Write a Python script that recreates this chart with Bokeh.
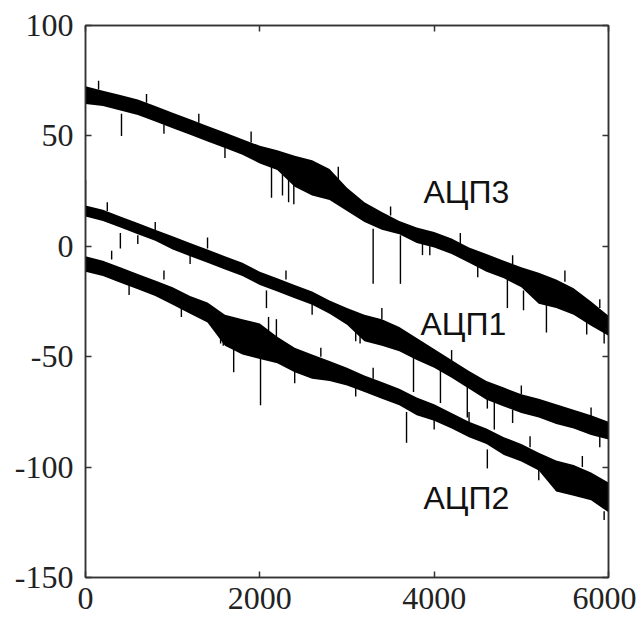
from bokeh.plotting import figure
from bokeh.models import Range1d, FixedTicker, LinearAxis, ColumnDataSource
from bokeh.core.properties import value
from bokeh.embed import file_html
from bokeh.resources import INLINE

# sample index grid at which the noise band edges were read
x_pts = [0, 200, 400, 600, 800, 1000, 1200, 1400, 1600, 1800, 2000,
         2200, 2400, 2600, 2800, 3000, 3200, 3400, 3600, 3800, 4000,
         4200, 4400, 4600, 4800, 5000, 5200, 5400, 5600, 5800, 6000]

# АЦП3 band core (upper / lower edge)
adc3_hi = [72.5, 70.5, 68.5, 66.5, 63.5, 60.5, 57.5, 54.5, 51.5, 48.5, 45.5, 43.5, 41, 39, 35, 26.5,
           20, 15.5, 11.5, 8.5, 6.5, 3.5, -0.5, -3.5, -6.5, -9.5, -12, -15, -19, -25, -31.5]
adc3_lo = [64.5, 63.5, 61.5, 59.5, 56.5, 53.5, 50.5, 47.5, 44.5, 41.5, 37.5, 34.5, 27, 23, 21, 16,
           11, 7.5, 5.5, 1.5, -0.5, -3.5, -7.5, -11.5, -14.5, -18.5, -26, -28, -31, -36, -40.5]
# АЦП1 band core
adc1_hi = [18.5, 16.5, 13.5, 10.5, 7.5, 4.5, 1.5, -1.5, -4.5, -7.5, -11.5, -14.5, -17.5, -20.5, -24.5, -28,
           -31, -33, -36.5, -41.5, -46.5, -51.5, -56.5, -61, -64, -67, -69, -71.5, -74, -76.5, -79.5]
adc1_lo = [13.5, 11.5, 8.5, 5.5, 2.5, -1.5, -4.5, -7.5, -10.5, -13.5, -17.5, -20.5, -23.5, -26.5, -30.5, -35.5,
           -43, -45, -47.5, -51.5, -55, -59.5, -64.5, -69.5, -72.5, -75.5, -77.5, -80.5, -82.5, -85.5, -87.5]
# АЦП2 band core
adc2_hi = [-4.5, -6.5, -9.5, -12.5, -15.5, -18.5, -22.5, -25.5, -31, -33, -35, -41, -46, -49, -52, -55,
           -58.5, -61.5, -64.5, -68.5, -71.5, -75.5, -79.5, -82.5, -86.5, -89.5, -93.5, -97, -99, -102.5, -107]
adc2_lo = [-11.5, -13.5, -16.5, -19.5, -22.5, -26.5, -30.5, -34.5, -45, -49, -51, -53, -57, -60, -61, -63,
           -66, -69, -72, -76.5, -79, -82.5, -86.5, -89.5, -94.5, -97.5, -101.5, -111, -113, -115, -120.5]

# spikes: sample index, value at band edge, value at spike tip
adc3_spk_x = [413, 2134, 2260, 2330, 2390, 3300, 3613, 3866, 4840, 4900, 5025, 5288, 5600, 5620,
              150, 700, 1300, 1900, 2900, 3500, 4300, 5500, 5900, 900, 1600, 3950, 4500, 5750, 5950]
adc3_spk_a = [60, 36, 35, 33, 32, 8, 5, 2, -14, -8, -20, -24, -22, -27,
              71, 65, 56, 47, 30, 14, 1, -16, -28, 55, 46, 1, -8, -34, -38]
adc3_spk_b = [50, 22, 23, 20, 19, -17, -17, -4, -28, -4, -29, -39, -25, -30,
              75, 69, 60, 52, 36, 18, 6, -11, -24, 51, 40, -4, -14, -40, -44]

adc1_spk_x = [0, 400, 2076, 3100, 3150, 3763, 4072, 4380, 4610, 4690,
              250, 800, 1400, 2300, 3400, 4200, 5000, 5800, 600, 1200, 2600, 4900, 5900]
adc1_spk_a = [17, 6, -20, -36, -36, -50, -54, -60, -66, -68,
              16, 7, -1, -15, -33, -52, -67, -77, 5, -3, -26, -74, -86]
adc1_spk_b = [30, -1, -28, -43, -44, -66, -71, -77.5, -73.5, -83,
              20, 11, 4, -11, -28, -47, -63, -73, 1, -8, -31, -80, -91]

adc2_spk_x = [1550, 1580, 1700, 2008, 2100, 2190, 3683, 4610, 5200,
              300, 900, 2700, 3300, 4400, 5100, 5700, 500, 1100, 2400, 3100, 4000, 5950]
adc2_spk_a = [-38, -38, -46, -50, -42, -44, -75, -92, -100,
              -6, -15, -50, -60, -80, -91, -100, -17, -27, -56, -62, -78, -120]
adc2_spk_b = [-44, -45, -57, -72, -32, -33, -89, -100.6, -106,
              -2, -11, -46, -55, -75, -86, -95, -22, -32, -62, -68, -83, -124]

labels = ["АЦП3", "АЦП1", "АЦП2"]
label_x = [3877, 3843, 3877]
label_y = [24.4, -35, -113.8]

x_ticks = [0, 2000, 4000, 6000]
y_ticks = [-150, -100, -50, 0, 50, 100]

p = figure(frame_width=523, frame_height=552, output_backend="svg",
           toolbar_location=None, x_range=Range1d(0, 6000), y_range=Range1d(-150, 100),
           min_border_left=85, min_border_top=25, min_border_right=28, min_border_bottom=40)
p.background_fill_color = "white"
p.border_fill_color = "white"
p.xgrid.visible = False
p.ygrid.visible = False
p.outline_line_color = "#333333"
p.outline_line_width = 1.5

for hi, lo in [(adc3_hi, adc3_lo), (adc1_hi, adc1_lo), (adc2_hi, adc2_lo)]:
    src = ColumnDataSource(dict(x=x_pts, hi=hi, lo=lo))
    p.varea(x="x", y1="lo", y2="hi", source=src, fill_color="black")

for sx, sa, sb in [(adc3_spk_x, adc3_spk_a, adc3_spk_b),
                   (adc1_spk_x, adc1_spk_a, adc1_spk_b),
                   (adc2_spk_x, adc2_spk_a, adc2_spk_b)]:
    p.segment(x0=sx, y0=sa, x1=sx, y1=sb, line_color="black", line_width=1.4)

p.text(x=label_x, y=label_y, text=labels, text_font=value("Liberation Sans"),
       text_font_size="32px", text_align="left", text_baseline="alphabetic",
       text_color="#111111")

def style(ax, show_labels, standoff=0):
    ax.axis_line_color = "#333333"
    ax.axis_line_width = 1.5
    ax.major_tick_in = 6
    ax.major_tick_out = 0
    ax.major_tick_line_color = "#333333"
    ax.major_tick_line_width = 1.5
    ax.minor_tick_line_color = None
    ax.major_label_text_font = "Liberation Serif"
    ax.major_label_text_color = "#222222"
    if show_labels:
        ax.major_label_text_font_size = "32px"
        ax.major_label_standoff = standoff
    else:
        ax.major_label_text_font_size = "0px"
        ax.major_label_standoff = 0
        ax.major_label_text_alpha = 0

p.xaxis.ticker = FixedTicker(ticks=x_ticks)
p.yaxis.ticker = FixedTicker(ticks=y_ticks)
style(p.xaxis[0], True, 10)
style(p.yaxis[0], True, 12)
p.yaxis[0].major_label_overrides = {t: str(t) for t in y_ticks}
p.xaxis[0].major_label_overrides = {t: str(t) for t in x_ticks}

top = LinearAxis(ticker=FixedTicker(ticks=x_ticks))
right = LinearAxis(ticker=FixedTicker(ticks=y_ticks))
style(top, False)
style(right, False)
p.add_layout(top, "above")
p.add_layout(right, "right")

open("out.html", "w").write(file_html(p, INLINE))
